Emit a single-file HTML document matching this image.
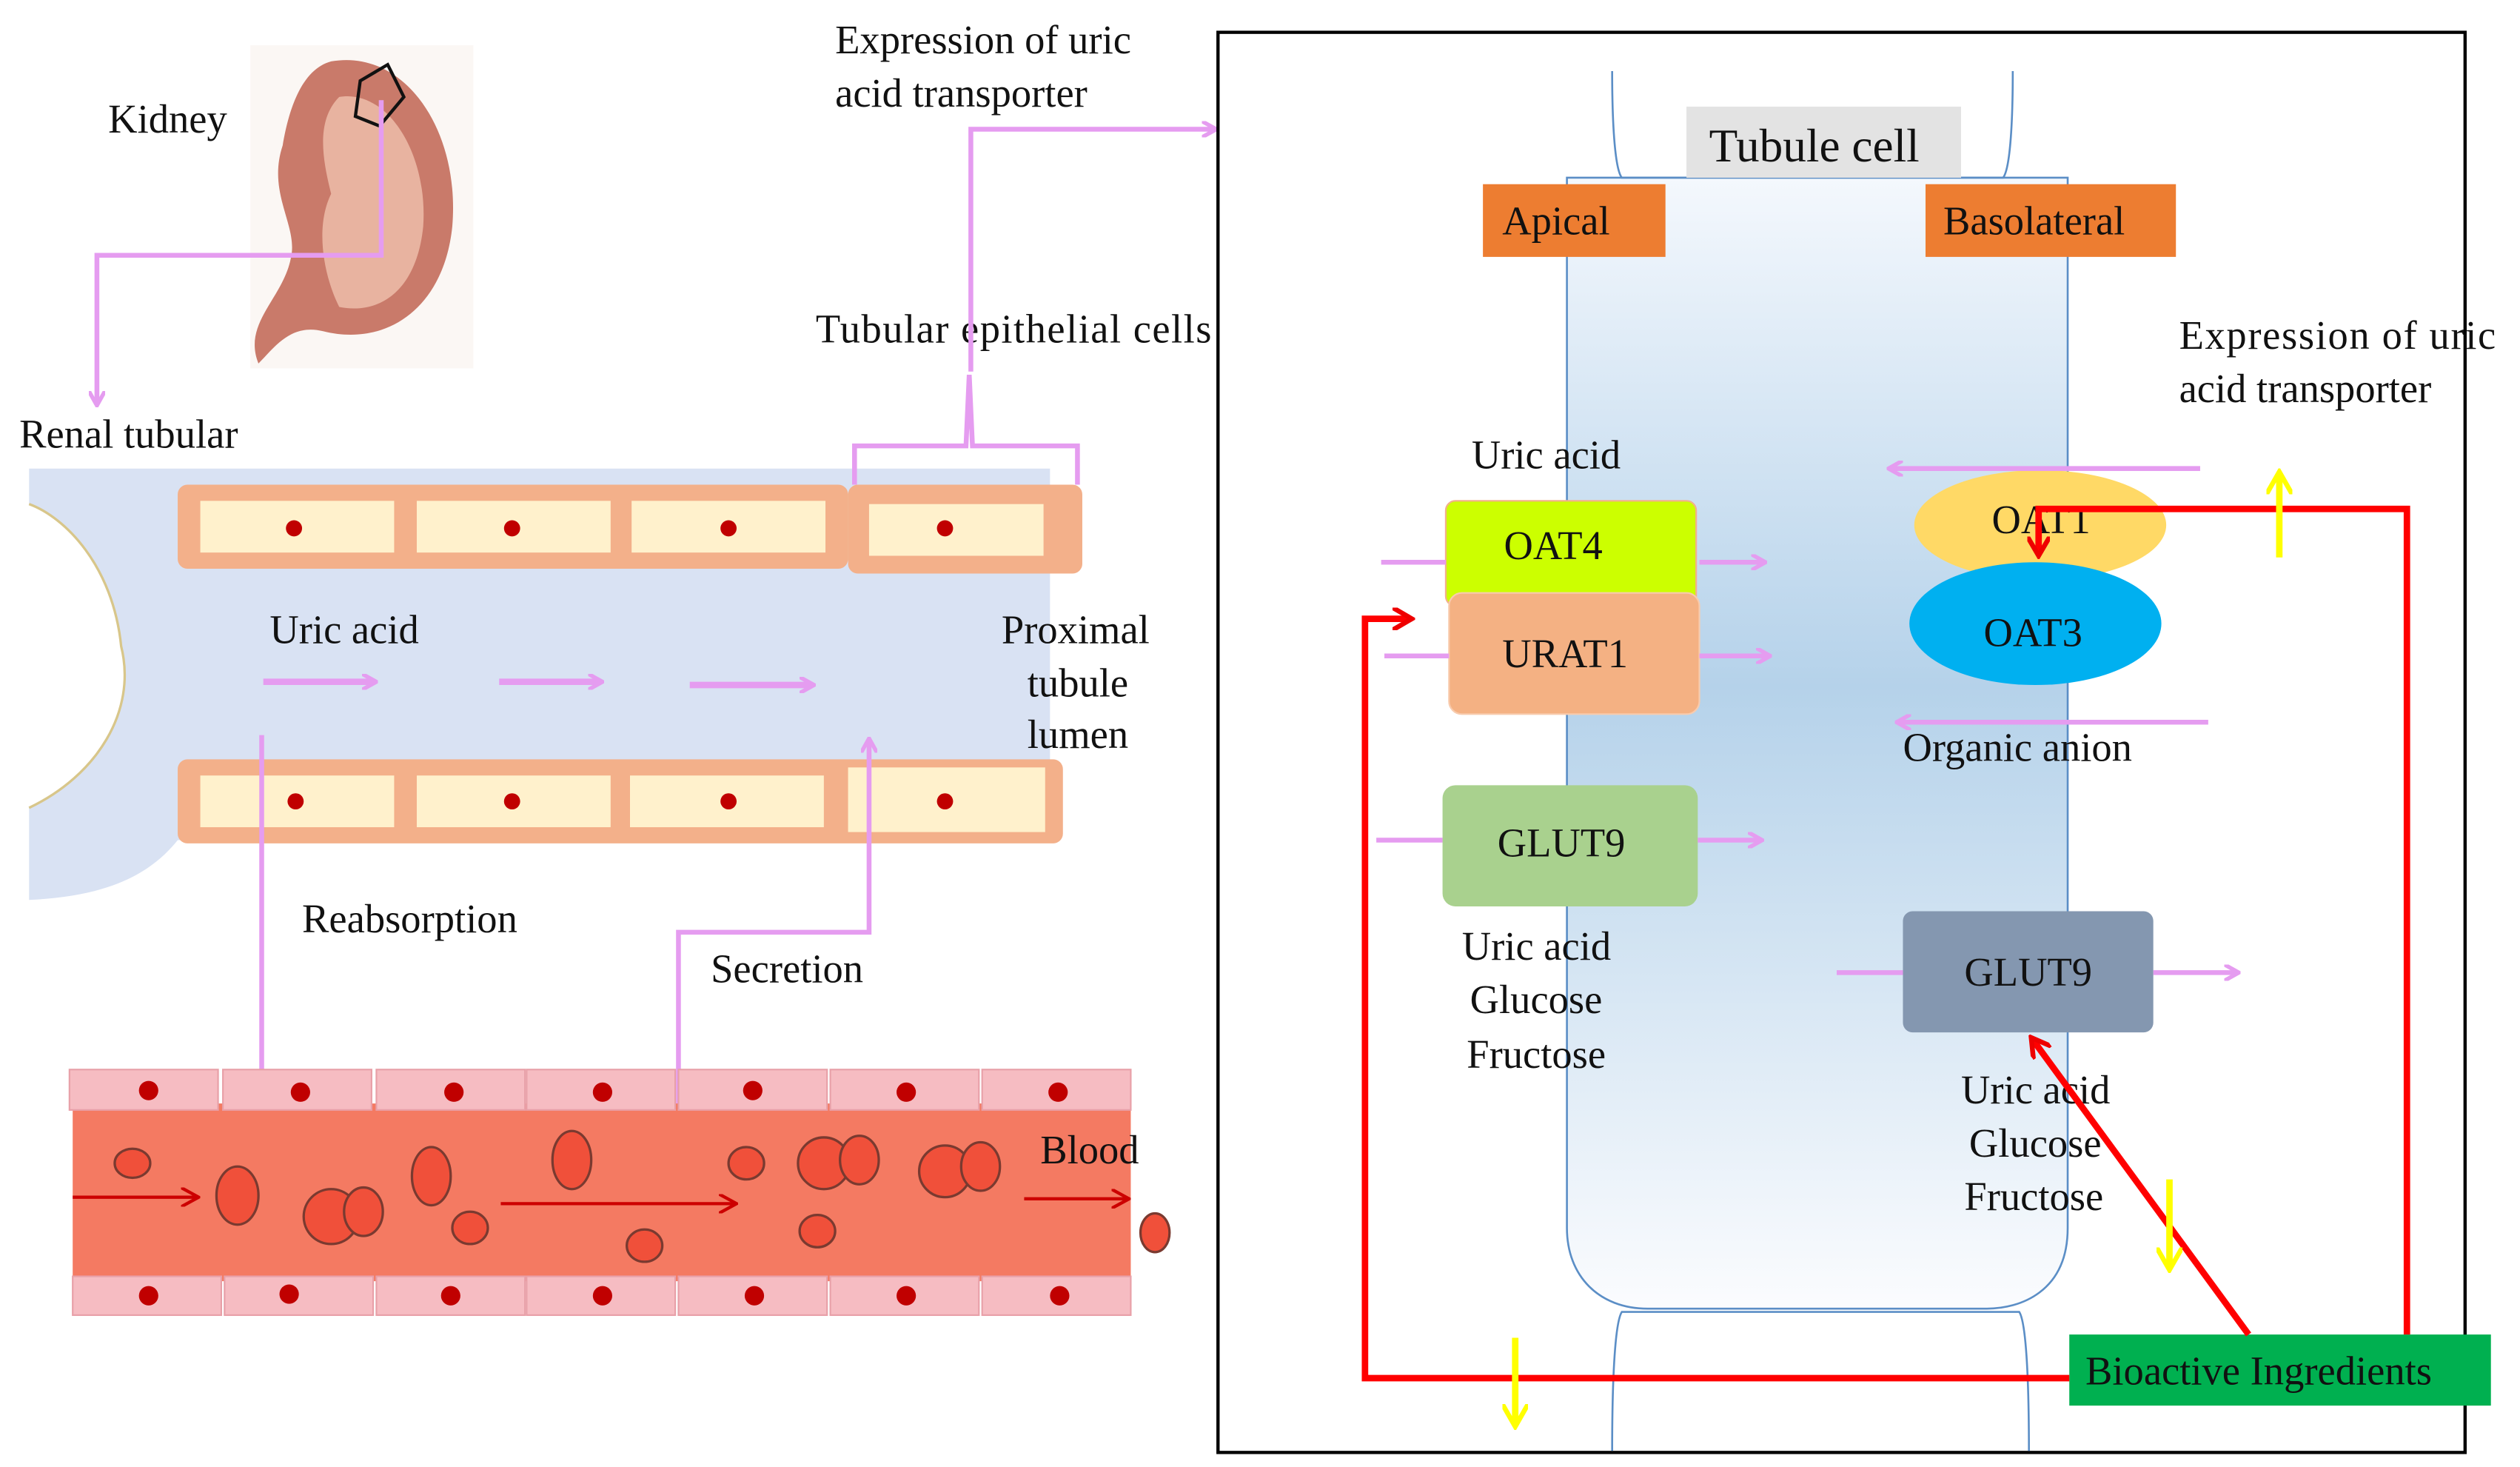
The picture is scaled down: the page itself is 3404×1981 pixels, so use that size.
<!DOCTYPE html>
<html><head><meta charset="utf-8"><style>html,body{margin:0;padding:0;background:#fff}svg{display:block}text{font-family:"Liberation Serif",serif;font-size:25px;fill:#111}</style></head><body>
<svg width="3404" height="1981" viewBox="0 0 1560 908" preserveAspectRatio="none" xmlns="http://www.w3.org/2000/svg">
<defs>
<marker id="pa" markerWidth="10" markerHeight="10" refX="8" refY="5" orient="auto" markerUnits="userSpaceOnUse"><path d="M0,0 L9,5 L0,10" fill="none" stroke="#e59cf0" stroke-width="2.5"/></marker>
<marker id="ra" markerWidth="14" markerHeight="14" refX="11" refY="7" orient="auto" markerUnits="userSpaceOnUse"><path d="M0,0 L12,7 L0,14" fill="none" stroke="#e00" stroke-width="3"/></marker>
<marker id="ya" markerWidth="16" markerHeight="16" refX="13" refY="8" orient="auto" markerUnits="userSpaceOnUse"><path d="M0,0 L14,8 L0,16" fill="none" stroke="#ff0" stroke-width="3"/></marker>
<marker id="da" markerWidth="12" markerHeight="12" refX="10" refY="6" orient="auto" markerUnits="userSpaceOnUse"><path d="M0,0 L11,6 L0,12" fill="none" stroke="#c00" stroke-width="2"/></marker>
<linearGradient id="tg" x1="0" y1="0" x2="0" y2="1"><stop offset="0" stop-color="#f4f8fd"/><stop offset="0.45" stop-color="#b5d2ea"/><stop offset="1" stop-color="#fbfcfe"/></linearGradient>
</defs>
<rect x="155" y="28" width="138" height="200" fill="#fbf7f4"/>
<path d="M205,38 C250,30 285,80 280,140 C275,190 240,215 200,205 C180,200 170,215 160,225 C150,200 175,185 180,160 C185,140 165,120 175,90 C180,60 190,42 205,38Z" fill="#c97a6a"/>
<path d="M210,60 C240,55 265,95 262,140 C258,180 235,195 210,190 C200,170 195,140 205,120 C200,100 195,75 210,60Z" fill="#e8b3a0"/>
<path d="M223,50 L240,40 L250,60 L235,78 L220,72Z" fill="none" stroke="#111" stroke-width="2"/>
<text x="67" y="82">Kidney</text>
<polyline points="236,62 236,158 60,158 60,250" fill="none" stroke="#e59cf0" stroke-width="3" marker-end="url(#pa)"/>
<text x="12" y="277">Renal tubular</text>
<path d="M18,290 L650,290 L650,520 L110,520 C90,545 60,555 18,557 L18,500 C60,480 85,440 75,400 C70,350 40,320 18,312Z" fill="#d9e2f3"/>
<path d="M18,312 C40,320 70,350 75,400 C85,440 60,480 18,500" fill="none" stroke="#d8c68a" stroke-width="1.5"/>
<g>
<rect x="110" y="300" width="415" height="52" rx="6" fill="#f3b08a"/>
<rect x="525" y="300" width="145" height="55" rx="6" fill="#f3b08a"/>
<rect x="124" y="310" width="120" height="32" fill="#fff1cc"/><rect x="258" y="310" width="120" height="32" fill="#fff1cc"/><rect x="391" y="310" width="120" height="32" fill="#fff1cc"/><rect x="538" y="312" width="108" height="32" fill="#fff1cc"/>
<rect x="110" y="470" width="548" height="52" rx="6" fill="#f3b08a"/>
<rect x="124" y="480" width="120" height="32" fill="#fff1cc"/><rect x="258" y="480" width="120" height="32" fill="#fff1cc"/><rect x="390" y="480" width="120" height="32" fill="#fff1cc"/><rect x="525" y="475" width="122" height="40" fill="#fff1cc"/>
<g fill="#c00000"><circle cx="182" cy="327" r="5"/><circle cx="317" cy="327" r="5"/><circle cx="451" cy="327" r="5"/><circle cx="585" cy="327" r="5"/><circle cx="183" cy="496" r="5"/><circle cx="317" cy="496" r="5"/><circle cx="451" cy="496" r="5"/><circle cx="585" cy="496" r="5"/></g>
</g>
<polyline points="529,300 529,276 598,276 600,232 602,276 667,276 667,300" fill="none" stroke="#e59cf0" stroke-width="3"/>
<text x="505" y="212" textLength="245">Tubular epithelial cells</text>
<polyline points="601,230 601,80 752,80" fill="none" stroke="#e59cf0" stroke-width="3" marker-end="url(#pa)"/>
<text x="517" y="33">Expression of uric</text><text x="517" y="66">acid transporter</text>
<text x="167" y="398">Uric acid</text>
<text x="620" y="398">Proximal</text><text x="636" y="431">tubule</text><text x="636" y="463">lumen</text>
<g stroke="#e59cf0" stroke-width="4" fill="none"><line x1="163" y1="422" x2="232" y2="422" marker-end="url(#pa)"/><line x1="309" y1="422" x2="372" y2="422" marker-end="url(#pa)"/><line x1="427" y1="424" x2="503" y2="424" marker-end="url(#pa)"/></g>
<polyline points="162,455 162,705" fill="none" stroke="#e59cf0" stroke-width="3" marker-end="url(#pa)"/>
<polyline points="420,700 420,577 538,577 538,458" fill="none" stroke="#e59cf0" stroke-width="3" marker-end="url(#pa)"/>
<text x="187" y="577">Reabsorption</text><text x="440" y="608">Secretion</text>
<rect x="45" y="683" width="655" height="110" fill="#f47a62"/>
<g fill="#f6bcc2" stroke="#e8a0a8">
<rect x="43" y="662" width="92" height="25"/><rect x="138" y="662" width="92" height="25"/><rect x="233" y="662" width="92" height="25"/><rect x="326" y="662" width="92" height="25"/><rect x="420" y="662" width="92" height="25"/><rect x="514" y="662" width="92" height="25"/><rect x="608" y="662" width="92" height="25"/>
<rect x="45" y="790" width="92" height="24"/><rect x="139" y="790" width="92" height="24"/><rect x="233" y="790" width="92" height="24"/><rect x="326" y="790" width="92" height="24"/><rect x="420" y="790" width="92" height="24"/><rect x="514" y="790" width="92" height="24"/><rect x="608" y="790" width="92" height="24"/>
</g>
<g fill="#c00000"><circle cx="92" cy="675" r="6"/><circle cx="186" cy="676" r="6"/><circle cx="281" cy="676" r="6"/><circle cx="373" cy="676" r="6"/><circle cx="466" cy="675" r="6"/><circle cx="561" cy="676" r="6"/><circle cx="655" cy="676" r="6"/><circle cx="92" cy="802" r="6"/><circle cx="179" cy="801" r="6"/><circle cx="279" cy="802" r="6"/><circle cx="373" cy="802" r="6"/><circle cx="467" cy="802" r="6"/><circle cx="561" cy="802" r="6"/><circle cx="656" cy="802" r="6"/></g>
<g fill="#f0503a" stroke="#7a3a30" stroke-width="1.5">
<ellipse cx="82" cy="720" rx="11" ry="9"/><ellipse cx="147" cy="740" rx="13" ry="18"/><ellipse cx="205" cy="753" rx="17" ry="17"/><ellipse cx="225" cy="750" rx="12" ry="15"/><ellipse cx="267" cy="728" rx="12" ry="18"/><ellipse cx="291" cy="760" rx="11" ry="10"/><ellipse cx="354" cy="718" rx="12" ry="18"/><ellipse cx="399" cy="771" rx="11" ry="10"/><ellipse cx="462" cy="720" rx="11" ry="10"/><ellipse cx="510" cy="720" rx="16" ry="16"/><ellipse cx="532" cy="718" rx="12" ry="15"/><ellipse cx="506" cy="762" rx="11" ry="10"/><ellipse cx="585" cy="725" rx="16" ry="16"/><ellipse cx="607" cy="722" rx="12" ry="15"/><ellipse cx="715" cy="763" rx="9" ry="12"/>
</g>
<g stroke="#c00" stroke-width="2" fill="none"><line x1="45" y1="741" x2="122" y2="741" marker-end="url(#da)"/><line x1="310" y1="745" x2="455" y2="745" marker-end="url(#da)"/><line x1="634" y1="742" x2="698" y2="742" marker-end="url(#da)"/></g>
<text x="644" y="720">Blood</text>
<rect x="754" y="20" width="772" height="879" fill="#fff" stroke="#000" stroke-width="2"/>
<path d="M970,110 L1280,110 L1280,760 C1280,800 1250,810 1230,810 L1020,810 C990,810 970,790 970,760Z" fill="url(#tg)" stroke="#5b8ec6" stroke-width="1.2"/>
<path d="M998,44 C998,80 1000,105 1004,110 L1240,110 C1244,105 1246,80 1246,44" fill="none" stroke="#5b8ec6" stroke-width="1.2"/>
<path d="M998,898 C998,850 1000,818 1004,812 L1250,812 C1254,818 1256,850 1256,898" fill="none" stroke="#5b8ec6" stroke-width="1.2"/>
<rect x="1044" y="66" width="170" height="44" fill="#e3e3e3"/><text x="1058" y="100" style="font-size:29px">Tubule cell</text>
<rect x="918" y="114" width="113" height="45" fill="#ed7d31"/><text x="930" y="145">Apical</text>
<rect x="1192" y="114" width="155" height="45" fill="#ed7d31"/><text x="1203" y="145">Basolateral</text>
<text x="1349" y="216" textLength="196">Expression of uric</text><text x="1349" y="249">acid transporter</text>
<text x="911" y="290">Uric acid</text>
<rect x="895" y="310" width="155" height="65" rx="6" fill="#ccff00" stroke="#f3b08a"/><text x="931" y="346">OAT4</text>
<rect x="897" y="367" width="155" height="75" rx="8" fill="#f4b183" stroke="#f8cbad"/><text x="930" y="413">URAT1</text>
<rect x="893" y="486" width="158" height="75" rx="8" fill="#a9d18e"/><text x="927" y="530">GLUT9</text>
<text x="905" y="594">Uric acid</text><text x="910" y="627">Glucose</text><text x="908" y="661">Fructose</text>
<ellipse cx="1263" cy="325" rx="78" ry="34" fill="#ffd966"/><text x="1233" y="330">OAT1</text>
<ellipse cx="1260" cy="386" rx="78" ry="38" fill="#00b0f0"/><text x="1228" y="400">OAT3</text>
<text x="1178" y="471">Organic anion</text>
<rect x="1178" y="564" width="155" height="75" rx="6" fill="#8497b0"/><text x="1216" y="610">GLUT9</text>
<text x="1214" y="683">Uric acid</text><text x="1219" y="716">Glucose</text><text x="1216" y="749">Fructose</text>
<g stroke="#e59cf0" stroke-width="3" fill="none">
<line x1="855" y1="348" x2="895" y2="348"/><line x1="1052" y1="348" x2="1092" y2="348" marker-end="url(#pa)"/>
<line x1="857" y1="406" x2="897" y2="406"/><line x1="1052" y1="406" x2="1095" y2="406" marker-end="url(#pa)"/>
<line x1="852" y1="520" x2="893" y2="520"/><line x1="1051" y1="520" x2="1090" y2="520" marker-end="url(#pa)"/>
<line x1="1362" y1="290" x2="1170" y2="290" marker-end="url(#pa)"/>
<line x1="1367" y1="447" x2="1175" y2="447" marker-end="url(#pa)"/>
<line x1="1137" y1="602" x2="1178" y2="602"/><line x1="1333" y1="602" x2="1385" y2="602" marker-end="url(#pa)"/>
</g>
<rect x="1281" y="826" width="261" height="44" fill="#00b050"/><text x="1291" y="857">Bioactive Ingredients</text>
<g stroke="#f00" stroke-width="4" fill="none">
<polyline points="1281,853 845,853 845,383 873,383" marker-end="url(#ra)"/>
<polyline points="1490,826 1490,315 1262,315 1262,343" marker-end="url(#ra)"/>
<line x1="1392" y1="826" x2="1258" y2="643" marker-end="url(#ra)"/>
</g>
<g stroke="#ff0" stroke-width="4" fill="none">
<line x1="1411" y1="345" x2="1411" y2="293" marker-end="url(#ya)"/>
<line x1="1343" y1="730" x2="1343" y2="785" marker-end="url(#ya)"/>
<line x1="938" y1="828" x2="938" y2="882" marker-end="url(#ya)"/>
</g>
</svg>
</body></html>
